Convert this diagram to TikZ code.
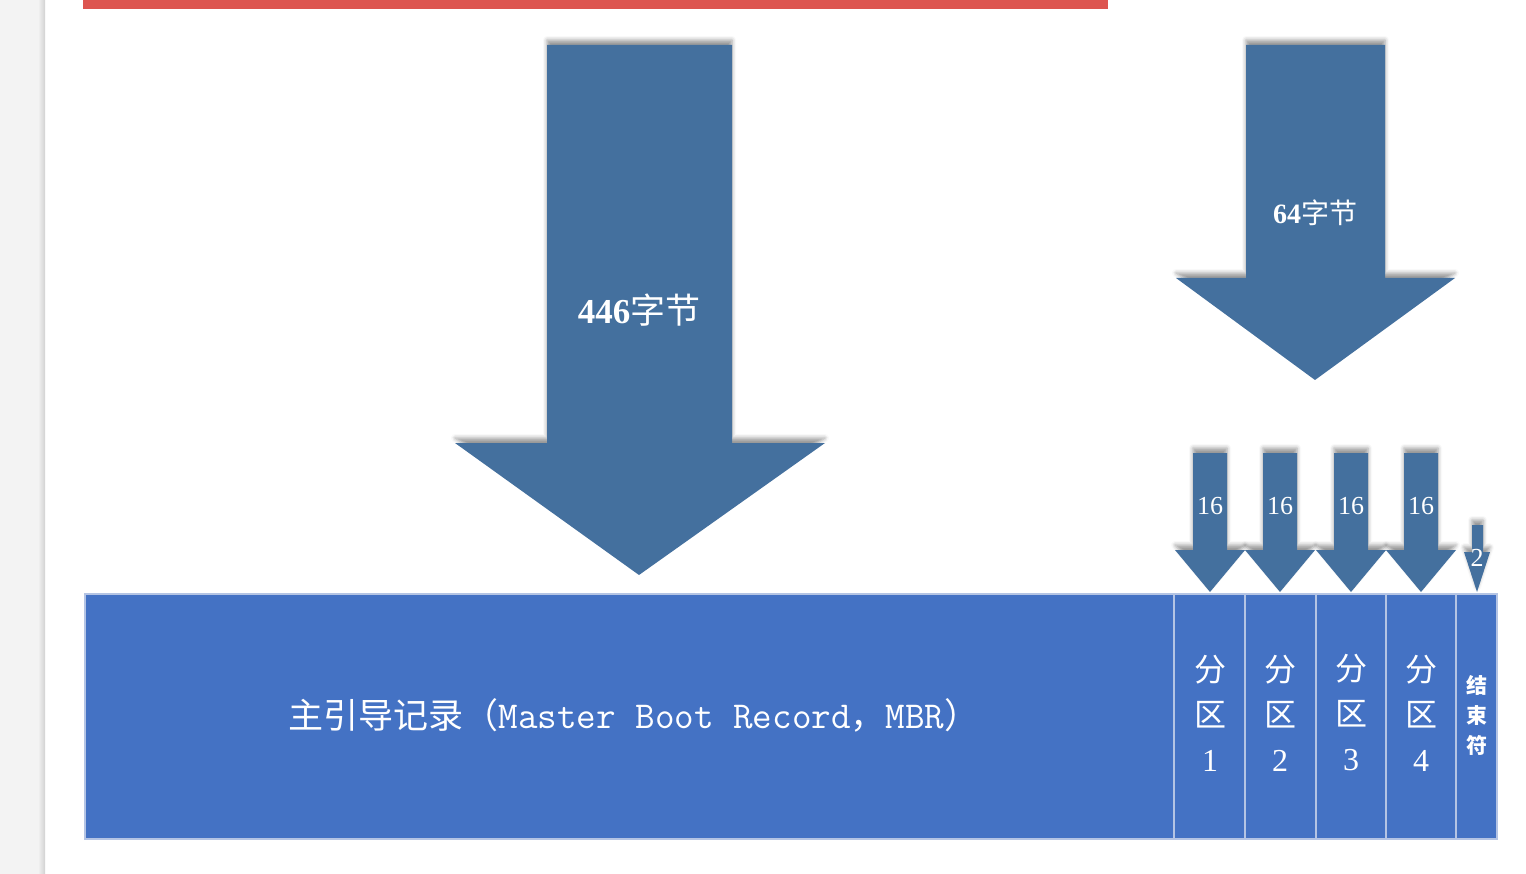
\documentclass[tikz,border=0pt]{standalone}
\usepackage{fontspec}
\newfontfamily\cjk{Noto Sans CJK SC}
\newfontfamily\numf{Liberation Serif}
\usetikzlibrary{shadows.blur}
\definecolor{arrowblue}{HTML}{44709E}
\definecolor{boxblue}{HTML}{4472C4}
\definecolor{sepline}{HTML}{B4C4E4}
\definecolor{topred}{HTML}{DD5550}
\definecolor{stripgray}{HTML}{F3F3F3}
\tikzset{
  arrowshape/.style={fill=arrowblue, draw=none,
    blur shadow={shadow xshift=0pt, shadow yshift=5pt, shadow blur radius=4pt, shadow opacity=40}},
  wtext/.style={text=white, inner sep=0pt},
  parttext/.style={wtext, align=center, font=\fontsize{32}{45}\selectfont},
}
\begin{document}
\begin{tikzpicture}[x=1pt, y=-1pt]
\useasboundingbox (0,0) rectangle (1526,874);
% left strip
\fill[stripgray] (0,0) rectangle (44,874);
\shade[left color=stripgray, right color=black!18] (38,0) rectangle (45,874);
% red bar
\fill[topred] (83,0) rectangle (1108,9);
% big arrow
\path[arrowshape] (547,45) -- (732,45) -- (732,443) -- (825,443) -- (639,575) -- (455,443) -- (547,443) -- cycle;
\node[wtext, font=\fontsize{35}{40}\selectfont] (l446) at (639,310) {\numf\bfseries 446\cjk\mdseries 字节};
% 64 arrow
\path[arrowshape] (1246,45) -- (1385,45) -- (1385,278) -- (1455,278) -- (1315,380) -- (1176,278) -- (1246,278) -- cycle;
\node[wtext, font=\fontsize{28}{32}\selectfont] (l64) at (1315,213) {\numf\bfseries 64\cjk\mdseries 字节};
% small arrows
\foreach \c/\n in {1210/a,1280/b,1351/c,1421/d}{
  \path[arrowshape] (\c-17,453) -- (\c+17,453) -- (\c+17,550) -- (\c+35,550) -- (\c,592) -- (\c-35,550) -- (\c-17,550) -- cycle;
  \node[wtext, font=\fontsize{26}{28}\selectfont\numf] (s\n) at (\c,506) {16};
}
\path[arrowshape] (1472,525) -- (1483,525) -- (1483,552) -- (1490,552) -- (1477,592) -- (1464,552) -- (1472,552) -- cycle;
\node[wtext, font=\fontsize{26}{28}\selectfont\numf] (s2) at (1477,558) {2};
% main record
\fill[boxblue] (85,594) rectangle (1497,839);
\draw[sepline, line width=1.5pt] (85,594) rectangle (1497,839);
\foreach \x in {1174,1245,1316,1386,1456}{
  \draw[sepline, line width=1.5pt] (\x,594) -- (\x,839);
}
\node[wtext, font=\fontsize{35}{40}\selectfont] (mbr) at (634,715) {\cjk 主引导记录（\ttfamily\fontsize{38}{40}\selectfont Master Boot Record\cjk\fontsize{35}{40}\selectfont ，\ttfamily\fontsize{38}{40}\selectfont MBR\cjk\fontsize{35}{40}\selectfont ）};
\node[parttext] (p1) at (1210,713) {\cjk 分\\\cjk 区\\\numf 1};
\node[parttext] (p2) at (1280,713) {\cjk 分\\\cjk 区\\\numf 2};
\node[parttext] (p3) at (1351,713) {\cjk 分\\\cjk 区\\\numf 3};
\node[parttext] (p4) at (1421,713) {\cjk 分\\\cjk 区\\\numf 4};
\node[wtext, align=center, font=\fontsize{21}{30}\selectfont\cjk\bfseries] (end) at (1477,715) {结\\束\\符};
\end{tikzpicture}
\end{document}
